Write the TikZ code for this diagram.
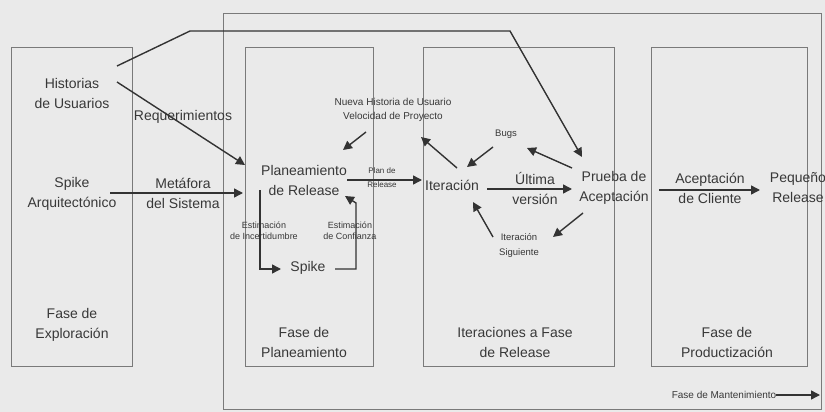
\documentclass[tikz,border=0pt]{standalone}
\usepackage{fontspec}
\setmainfont{Liberation Sans}
\usetikzlibrary{arrows.meta,calc}
\definecolor{bgc}{HTML}{EAEAEA}
\definecolor{boxc}{HTML}{7A7A7A}
\definecolor{linec}{HTML}{333333}
\definecolor{txtc}{HTML}{383838}
\tikzset{
  lbl/.style={inner sep=0pt, align=center, text=txtc, font=\fontsize{14}{20}\selectfont},
  smalllbl/.style={inner sep=0pt, align=center, text=txtc, font=\fontsize{10}{14}\selectfont},
  tinylbl/.style={inner sep=0pt, align=center, text=txtc, font=\fontsize{8}{14}\selectfont},
  minilbl/.style={inner sep=0pt, align=center, text=txtc, font=\fontsize{9.5}{15}\selectfont},
  estlbl/.style={inner sep=0pt, align=center, text=txtc, font=\fontsize{9}{11}\selectfont},
  phase/.style={draw=boxc, line width=1pt},
  conn/.style={draw=linec, line width=1.4pt, -{Triangle[length=9pt,width=9pt]}},
  plainconn/.style={draw=linec, line width=1.4pt}
}
\begin{document}
\begin{tikzpicture}[x=1pt,y=-1pt]
\useasboundingbox (0,0) rectangle (825,412);
\fill[bgc] (0,0) rectangle (825,412);
% phase boxes
\draw[phase] (223,14) rectangle (821,409);
\draw[phase] (11,48) rectangle (132,366);
\draw[phase] (245,48) rectangle (373,366);
\draw[phase] (423,48) rectangle (614,366);
\draw[phase] (651,48) rectangle (807,366);
% text nodes
\node[lbl] (hist) at (72,93) {Historias\\de Usuarios};
\node[lbl] (spikea) at (72,194) {Spike\\Arquitectónico};
\node[lbl] (req) at (183,117) {Requerimientos};
\node[lbl] (meta) at (183,193) {Metáfora\\del Sistema};
\node[lbl] (plan) at (304,180) {Planeamiento\\de Release};
\node[tinylbl] (planrel) at (382,178) {Plan de\\Release};
\node[lbl] (iter) at (452,185) {Iteración};
\node[lbl] (ultima) at (535,188) {Última\\versión};
\node[lbl] (prueba) at (614,188) {Prueba de\\Aceptación};
\node[lbl] (acep) at (710,188) {Aceptación\\de Cliente};
\node[lbl] (peq) at (798,188) {Pequeño\\Release};
\node[smalllbl] (nhu) at (393,110) {Nueva Historia de Usuario\\Velocidad de Proyecto};
\node[minilbl] (bugs) at (506,134) {Bugs};
\node[minilbl] (itsig) at (519,245) {Iteración\\Siguiente};
\node[lbl] (spike) at (308,268) {Spike};
\node[estlbl] (estinc) at (264,231) {Estimación\\de Incertidumbre};
\node[estlbl] (estconf) at (350,231) {Estimación\\de Confianza};
\node[lbl] (fexp) at (72,325) {Fase de\\Exploración};
\node[lbl] (fplan) at (304,342) {Fase de\\Planeamiento};
\node[lbl] (fiter) at (515,342) {Iteraciones a Fase\\de Release};
\node[lbl] (fprod) at (727,342) {Fase de\\Productización};
\node[smalllbl] (fmant) at (724,395) {Fase de Mantenimiento};
\coordinate (mantend) at (820,395);
\coordinate (b1) at (190,31);
\coordinate (b2) at (510,31);
% connectors
\draw[conn] ([shift={(45,-27)}]hist.center) -- (b1) -- (b2) -- ([shift={(-32,-31)}]prueba.center);
\draw[conn] ([shift={(45,-11)}]hist.center) -- ([shift={(-59,-15)}]plan.center);
\draw[conn] ([shift={(38,-1)}]spikea.center) -- ([shift={(-61,13)}]plan.center);
\draw[conn] ([shift={(43,0)}]plan.center) -- ([shift={(-30,-5)}]iter.center);
\draw[conn] ([shift={(-27,22)}]nhu.center) -- ([shift={(39,-30)}]plan.center);
\draw[conn] ([shift={(5,-17)}]iter.center) -- ([shift={(28,27)}]nhu.center);
\draw[conn] ([shift={(-13,13)}]bugs.center) -- ([shift={(15,-18)}]iter.center);
\draw[conn] ([shift={(-42,-20)}]prueba.center) -- ([shift={(21,14)}]bugs.center);
\draw[conn] ([shift={(35,4)}]iter.center) -- ([shift={(-42,1)}]prueba.center);
\draw[conn] ([shift={(-31,25)}]prueba.center) -- ([shift={(34,-8)}]itsig.center);
\draw[conn] ([shift={(-26,-8)}]itsig.center) -- ([shift={(21,17)}]iter.center);
\draw[conn] ([shift={(45,2)}]prueba.center) -- ([shift={(-38,2)}]peq.center);
\draw[conn] ([shift={(-44,10)}]plan.center) |- ([shift={(-27,1)}]spike.center);
\draw[conn] ([shift={(27,1)}]spike.center) -| ++(21,-66) -- ([shift={(41,16)}]plan.center);
\draw[conn] (fmant.east) -- (mantend);
\end{tikzpicture}
\end{document}
